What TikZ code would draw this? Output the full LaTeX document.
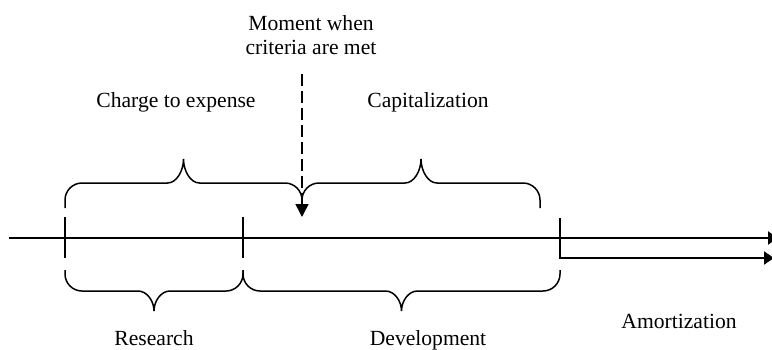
\documentclass[tikz,border=0pt]{standalone}
\usepackage{fontspec}
\setmainfont{Liberation Serif}
\usetikzlibrary{arrows.meta}
\tikzset{
  centered/.style = { align=center, anchor=base },
      term/.style = { font=\fontsize{10.8}{12}\selectfont, centered, inner sep=0pt },
      axis/.style = { line width=1pt, -{Triangle[length=5pt,width=6.5pt]} },
     notch/.style = { line width=0.65pt },
     curly/.style = { line width=0.75pt },
       cue/.style = { line width=0.75pt, dash pattern=on 6pt off 2.5pt,
                      -{Triangle[length=6.5pt,width=6.5pt]} }
}
\def\Rad{17}
% brace: x left, y left end, x right, y right end, y bar, y cusp
\newcommand*{\curly}[6]{%
  \pgfmathsetmacro{\sg}{sign(#2-#5)}
  \pgfmathsetmacro{\xm}{(#1+#3)/2}
  \pgfmathsetmacro{\ya}{#5+\sg*\Rad}
  \pgfmathsetmacro{\yb}{#5+\sg*\Rad*0.45}
  \pgfmathsetmacro{\yc}{#6+(#5-#6)*0.5}
  \draw [curly] (#1,#2) -- (#1,\ya)
    .. controls (#1,\yb) and (#1+\Rad*0.45,#5) .. (#1+\Rad,#5)
    -- (\xm-16,#5) .. controls (\xm-7,#5) and (\xm,\yc) .. (\xm,#6)
    .. controls (\xm,\yc) and (\xm+7,#5) .. (\xm+16,#5)
    -- (#3-\Rad,#5) .. controls (#3-\Rad*0.45,#5) and (#3,\yb) .. (#3,\ya)
    -- (#3,#4);
}

\begin{document}
\begin{tikzpicture}[x=0.5pt, y=-0.5pt]
  \useasboundingbox (0,0) rectangle (772,349);

  % time line
  \coordinate (t0) at (9,238);
  \coordinate (t1) at (778,238);
  \draw [axis] (t0) -- (t1);
  \foreach \x/\n in {65/a,243/b} {
    \draw [notch] (\x,217) coordinate (\n-top) -- (\x,258) coordinate (\n-bot);
  }

  % amortization
  \coordinate (c-top) at (560,218);
  \coordinate (amort) at (774,258);
  \draw [axis] (c-top) |- (amort);

  % braces
  \curly{65}{208}{302}{200}{183}{159}
  \curly{302}{200}{540}{208}{183}{159}
  \curly{65}{270}{243}{270}{291}{311}
  \curly{243}{270}{560}{270}{291}{311}

  \node [term, anchor=north] (moment) at (311,15) {Moment when\\criteria are met};
  \coordinate (cue-top) at (302,74);
  \coordinate (met) at (302,217);
  \draw [cue] (cue-top) -- (met);

  \node [term] (expense)  at (176,107) {Charge to expense};
  \node [term] (capital)  at (428,107) {Capitalization};
  \node [term] (research) at (154,345) {Research};
  \node [term] (develop)  at (428,345) {Development};
  \node [term] (amortize) at (679,328) {Amortization};
\end{tikzpicture}
\end{document}
